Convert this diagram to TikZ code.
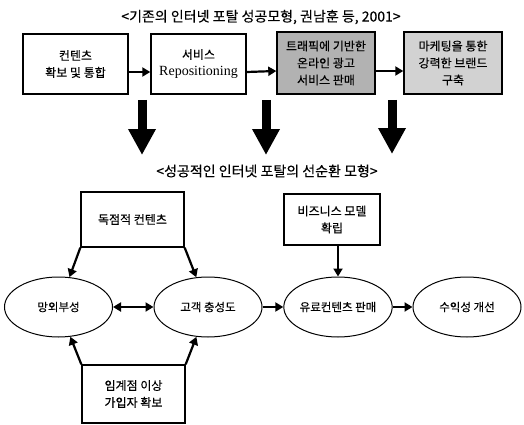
\documentclass[tikz,border=0pt]{standalone}
\usepackage{fontspec}
\setmainfont{Noto Sans CJK KR}[FakeBold=0.3]
\newfontfamily\latinfont{Liberation Serif}
\usetikzlibrary{arrows.meta,shapes.geometric}
\pgfdeclareradialshading{rim}{\pgfpoint{0bp}{0bp}}{rgb(0bp)=(1,1,1); rgb(30bp)=(1,1,1); rgb(50bp)=(0.68,0.68,0.68)}
\begin{document}
\begin{tikzpicture}%
	[x=1pt,
	y=-1pt,
	box/.style={draw, line width=1.4pt, align=center, inner sep=0pt, font=\fontsize{12}{17}\selectfont},
	cycle/.style={draw, ellipse, line width=1pt, inner sep=0pt, minimum width=108pt, minimum height=60pt, shading=rim, font=\fontsize{11.5}{13}\selectfont},
	title/.style={font=\fontsize{14}{15}\selectfont},
	flow/.style={line width=2.2pt, -{Triangle[width=9pt,length=8pt]}},
	bigflow/.style={line width=9pt, -{Triangle[width=26pt,length=26pt]}}]
%
\useasboundingbox (0,0) rectangle (524,425);
%%
%% Existing portal model (top row)
%%
\node[title] (t1) at (261,17) {<기존의 인터넷 포탈 성공모형, 권남훈 등, 2001>};
\node[box, minimum width=105pt, minimum height=60pt] (content) at (75.5,64) {컨텐츠\\확보 및 통합};
\node[box, minimum width=95pt, minimum height=60pt] (service) at (198.5,64) {서비스\\{\latinfont\fontsize{14}{15}\selectfont Repositioning}};
\node[box, minimum width=98pt, minimum height=62pt, fill=gray!60] (traffic) at (326,63) {트래픽에 기반한\\온라인 광고\\서비스 판매};
\node[box, minimum width=98pt, minimum height=62pt, fill=gray!35] (brand) at (453,63) {마케팅을 통한\\강력한 브랜드\\구축};
%%
\draw[flow] ([yshift=-8pt]content.east) -- ([yshift=-8pt]service.west);
\draw[flow] ([yshift=-8pt]service.east) -- ([yshift=-8pt]traffic.west);
\draw[flow] ([yshift=-8pt]traffic.east) -- ([yshift=-8pt]brand.west);
%%
%% Transition arrows
%%
\coordinate (d1a) at (142,100);
\coordinate (d1b) at (142,155);
\coordinate (d2a) at (266,100);
\coordinate (d2b) at (266,155);
\coordinate (d3a) at (392,100);
\coordinate (d3b) at (392,154);
\draw[bigflow] (d1a) -- (d1b);
\draw[bigflow] (d2a) -- (d2b);
\draw[bigflow] (d3a) -- (d3b);
%%
%% Virtuous cycle model (bottom)
%%
\node[title] (t2) at (267,171) {<성공적인 인터넷 포탈의 선순환 모형>};
\node[box, minimum width=103pt, minimum height=55pt] (exclusive) at (132.5,219.5) {독점적 컨텐츠};
\node[box, minimum width=96pt, minimum height=51pt] (bizmodel) at (332,219.5) {비즈니스 모델\\확립};
\node[box, minimum width=103pt, minimum height=58pt] (members) at (133.5,394) {임계점 이상\\가입자 확보};
%%
\node[cycle] (network) at (58.5,307) {망외부성};
\node[cycle] (loyalty) at (208,307) {고객 충성도};
\node[cycle] (paid) at (338,307) {유료컨텐츠 판매};
\node[cycle] (profit) at (467,307) {수익성 개선};
%%
\draw[flow] (exclusive.south west) -- (network);
\draw[flow] (exclusive.south east) -- (loyalty);
\draw[flow] (members.north west) -- (network);
\draw[flow] (members.north east) -- (loyalty);
\draw[flow] (bizmodel.south -| paid.north) -- (paid.north);
\draw[line width=2.2pt, {Triangle[width=9pt,length=8pt]}-{Triangle[width=9pt,length=8pt]}] (network) -- (loyalty);
\draw[flow] (loyalty) -- (paid);
\draw[flow] (paid) -- (profit);
%%
\end{tikzpicture}
\end{document}
